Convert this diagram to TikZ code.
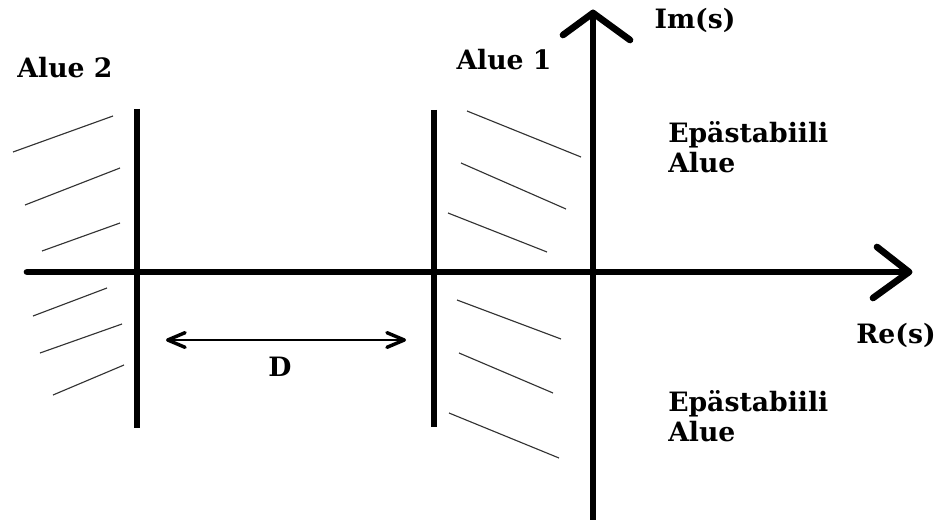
\documentclass[tikz,border=0pt]{standalone}
\usepackage{fontspec}
\setmainfont{DejaVu Serif}
\usetikzlibrary{arrows.meta,positioning}
\tikzset{
  axis/.style={line width=5pt, line cap=round, line join=round},
  bound/.style={line width=3.8pt},
  hatch/.style={line width=0.85pt, black!80},
  span/.style={line width=1.1pt, {Straight Barb[length=13pt,width=11pt,line width=2.6pt,round]}-{Straight Barb[length=13pt,width=11pt,line width=2.6pt,round]}},
  lbl/.style={font=\bfseries\fontsize{20}{22.5}\selectfont, inner sep=0pt}
}
\begin{document}
\begin{tikzpicture}[x=0.75pt, y=-0.75pt]
  \useasboundingbox (0,0) rectangle (941,520);
  % axes
  \coordinate (xbeg) at (27,272);
  \coordinate (xend) at (909,272);
  \coordinate (ybeg) at (593,520);
  \coordinate (yend) at (593,13);
  \draw[axis] (xbeg) -- (xend);
  \draw[axis] (877,247) -- (xend) -- (873,298);
  \draw[axis] (ybeg) -- (yend);
  \draw[axis] (563,35) -- (yend) -- (630,40);
  % region borders
  \draw[bound] (137,109) -- (137,428);
  \draw[bound] (434,110) -- (434,427);
  % hatching
  \foreach \xa/\ya/\xb/\yb in {13/152/113/116, 25/205/120/168, 42/251/120/223,
      33/316/107/288, 40/353/122/324, 53/395/124/365}
    \draw[hatch] (\xa,\ya) -- (\xb,\yb);
  \foreach \xa/\ya/\xb/\yb in {467/111/581/157, 461/163/566/209, 448/213/547/252,
      457/300/561/339, 459/353/553/393, 449/413/559/458}
    \draw[hatch] (\xa,\ya) -- (\xb,\yb);
  % distance D
  \coordinate (dl) at (166,340);
  \coordinate (dr) at (406,340);
  \draw[span] (dl) -- (dr);
  % labels
  \node[lbl] (alue2) at (65,68) {Alue 2};
  \node[lbl] (alue1) at (504,60) {Alue 1};
  \node[lbl] (im) at (695,20) {Im(s)};
  \node[lbl, align=left, anchor=west] (unst1) at (668,147) {Epästabiili\\Alue};
  \node[lbl, align=left, anchor=west] (unst2) at (668,416) {Epästabiili\\Alue};
  \node[lbl] (re) at (896,335) {Re(s)};
  \node[lbl] (dist) at (280,367) {D};
\end{tikzpicture}
\end{document}
